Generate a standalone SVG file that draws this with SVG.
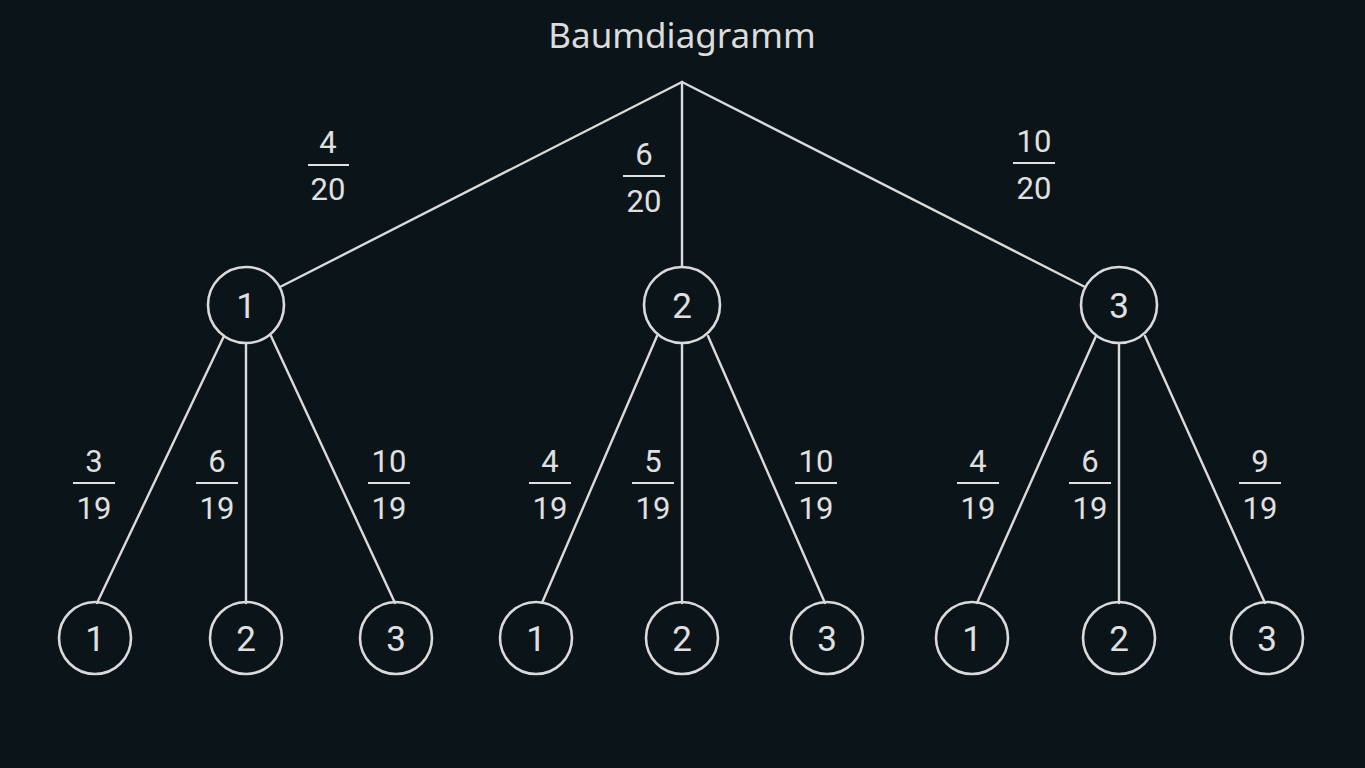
<svg xmlns="http://www.w3.org/2000/svg" width="1365" height="768" viewBox="0 0 1365 768">
<style>
.bg{fill:#0b1519}
.edge{stroke:#dadada;stroke-width:2.4;fill:none;stroke-linecap:round}
.node{fill:none;stroke:#dadada;stroke-width:2.6}
.lbl{font-family:Roboto,"Noto Sans","Liberation Sans",sans-serif;fill:#e0e0e0;text-anchor:middle}
.n{font-size:35px}
.f{font-size:31px}
.bar{stroke:#e0e0e0;stroke-width:2}
.title{font-family:"Noto Sans","Liberation Sans",sans-serif;font-size:35px;fill:#dcdcdc;text-anchor:middle}
</style>
<rect class="bg" x="0" y="0" width="1365" height="768"/>
<text class="title" x="682" y="48">Baumdiagramm</text>
<g id="connectors">
<line class="edge" x1="682" y1="82" x2="280" y2="287"/>
<line class="edge" x1="682" y1="82" x2="682" y2="267"/>
<line class="edge" x1="682" y1="82" x2="1085" y2="287"/>
<line class="edge" x1="224" y1="336" x2="97" y2="603"/>
<line class="edge" x1="246" y1="343" x2="246" y2="603"/>
<line class="edge" x1="271" y1="336" x2="395" y2="603"/>
<line class="edge" x1="657" y1="336" x2="542" y2="603"/>
<line class="edge" x1="682" y1="343" x2="682" y2="603"/>
<line class="edge" x1="708" y1="336" x2="825" y2="603"/>
<line class="edge" x1="1096" y1="336" x2="977" y2="603"/>
<line class="edge" x1="1119" y1="343" x2="1119" y2="603"/>
<line class="edge" x1="1145" y1="336" x2="1265" y2="603"/>
</g>
<g id="labels">
<g id="p-1"><text class="lbl f" x="328" y="153">4</text><line class="bar" x1="308" y1="165" x2="349" y2="165"/><text class="lbl f" x="328" y="200">20</text></g>
<g id="p-2"><text class="lbl f" x="644" y="165">6</text><line class="bar" x1="623" y1="176" x2="665" y2="176"/><text class="lbl f" x="644" y="212">20</text></g>
<g id="p-3"><text class="lbl f" x="1034" y="152">10</text><line class="bar" x1="1013" y1="163" x2="1055" y2="163"/><text class="lbl f" x="1034" y="199">20</text></g>
<g id="p-11"><text class="lbl f" x="94" y="472">3</text><line class="bar" x1="73" y1="483" x2="115" y2="483"/><text class="lbl f" x="94" y="519">19</text></g>
<g id="p-12"><text class="lbl f" x="217" y="472">6</text><line class="bar" x1="196" y1="483" x2="238" y2="483"/><text class="lbl f" x="217" y="519">19</text></g>
<g id="p-13"><text class="lbl f" x="389" y="472">10</text><line class="bar" x1="368" y1="483" x2="410" y2="483"/><text class="lbl f" x="389" y="519">19</text></g>
<g id="p-21"><text class="lbl f" x="550" y="472">4</text><line class="bar" x1="529" y1="483" x2="571" y2="483"/><text class="lbl f" x="550" y="519">19</text></g>
<g id="p-22"><text class="lbl f" x="653" y="472">5</text><line class="bar" x1="632" y1="483" x2="674" y2="483"/><text class="lbl f" x="653" y="519">19</text></g>
<g id="p-23"><text class="lbl f" x="816" y="472">10</text><line class="bar" x1="795" y1="483" x2="837" y2="483"/><text class="lbl f" x="816" y="519">19</text></g>
<g id="p-31"><text class="lbl f" x="978" y="472">4</text><line class="bar" x1="957" y1="483" x2="999" y2="483"/><text class="lbl f" x="978" y="519">19</text></g>
<g id="p-32"><text class="lbl f" x="1090" y="472">6</text><line class="bar" x1="1069" y1="483" x2="1111" y2="483"/><text class="lbl f" x="1090" y="519">19</text></g>
<g id="p-33"><text class="lbl f" x="1260" y="472">9</text><line class="bar" x1="1239" y1="483" x2="1281" y2="483"/><text class="lbl f" x="1260" y="519">19</text></g>
</g>
<g id="n1"><circle class="node" cx="246" cy="305" r="38"/><text class="lbl n" x="246" y="318">1</text></g>
<g id="n2"><circle class="node" cx="682" cy="305" r="38"/><text class="lbl n" x="682" y="318">2</text></g>
<g id="n3"><circle class="node" cx="1119" cy="305" r="38"/><text class="lbl n" x="1119" y="318">3</text></g>
<g id="n11"><circle class="node" cx="95" cy="638" r="36"/><text class="lbl n" x="95" y="651">1</text></g>
<g id="n12"><circle class="node" cx="246" cy="638" r="36"/><text class="lbl n" x="246" y="651">2</text></g>
<g id="n13"><circle class="node" cx="396" cy="638" r="36"/><text class="lbl n" x="396" y="651">3</text></g>
<g id="n21"><circle class="node" cx="536" cy="638" r="36"/><text class="lbl n" x="536" y="651">1</text></g>
<g id="n22"><circle class="node" cx="682" cy="638" r="36"/><text class="lbl n" x="682" y="651">2</text></g>
<g id="n23"><circle class="node" cx="827" cy="638" r="36"/><text class="lbl n" x="827" y="651">3</text></g>
<g id="n31"><circle class="node" cx="972" cy="638" r="36"/><text class="lbl n" x="972" y="651">1</text></g>
<g id="n32"><circle class="node" cx="1119" cy="638" r="36"/><text class="lbl n" x="1119" y="651">2</text></g>
<g id="n33"><circle class="node" cx="1267" cy="638" r="36"/><text class="lbl n" x="1267" y="651">3</text></g>
</svg>
